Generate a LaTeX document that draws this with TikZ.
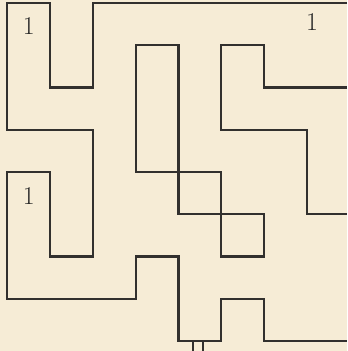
\documentclass[tikz,border=0pt]{standalone}
\usepackage{tikz}
\definecolor{paper}{RGB}{246,236,214}
\definecolor{ink}{RGB}{50,48,46}
\tikzset{every node/.style={font=\LARGE},wall/.style={draw=ink,line width=1.4pt,line join=miter},tick/.style={draw=ink,line width=1.2pt}}

\begin{document}
\begin{tikzpicture}[x=1.015cm,y=1cm]
\fill[paper] (-.163,-.237) rectangle (7.93,8.071);\useasboundingbox (-.163,-.237) rectangle (7.93,8.071);
\draw[wall] (7.93,8)--(2,8)--(2,6)--(1,6)--(1,8)--(0,8)--(0,5)--(2,5)--(2,2)--(1,2)--(1,4)--(0,4)--(0,1)--(3,1)--(3,2)--(4,2)--(4,0)--(5,0)--(5,1)--(6,1)--(6,0)--(7.93,0);
\draw[wall] (3,7)--(4,7)--(4,3)--(6,3)--(6,2)--(5,2)--(5,4)--(3,4)--cycle;
\draw[wall] (7.93,6)--(6,6)--(6,7)--(5,7)--(5,5)--(7,5)--(7,3)--(7.93,3);
\draw[tick] (4.34,0)--(4.34,-.237);\draw[tick] (4.57,0)--(4.57,-.237);
\node[text=black!85] (one1) at (.51,7.45){1};\node[text=black!85] (one2) at (7.11,7.55){1};\node[text=black!85] (one3) at (.51,3.43){1};
\end{tikzpicture}
\end{document}
